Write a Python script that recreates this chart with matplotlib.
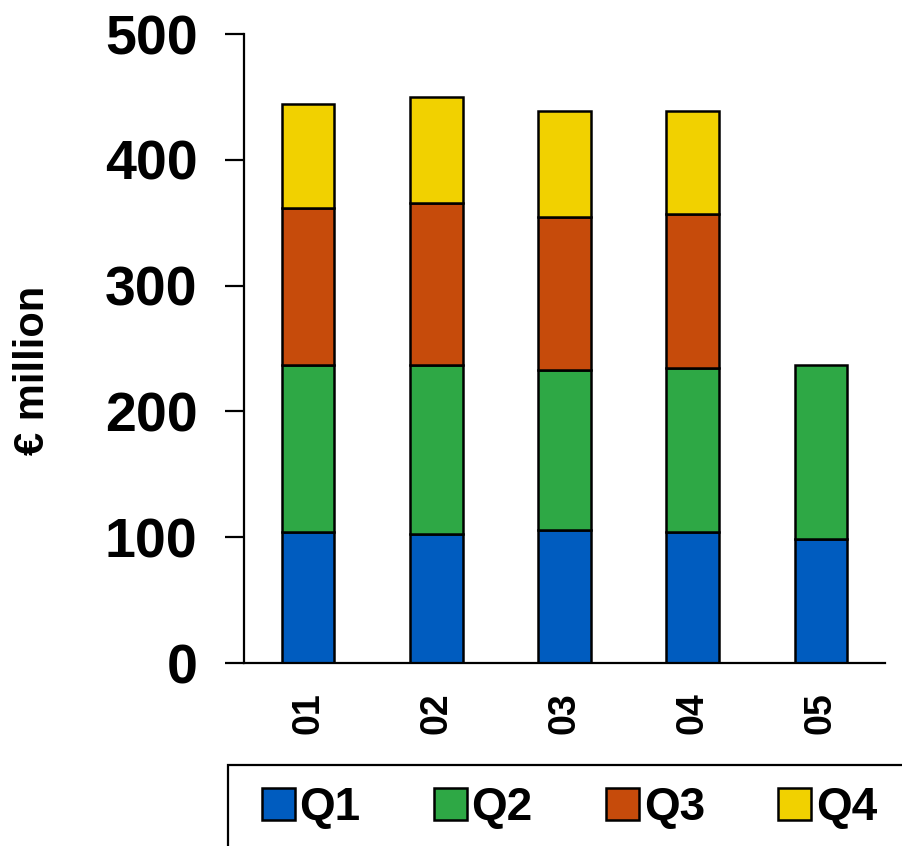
import numpy as np
import matplotlib.pyplot as plt
from matplotlib.patches import Rectangle

# values (€ million per quarter)
years = ["01", "02", "03", "04", "05"]
q1 = [104.0, 102.6, 105.8, 104.2, 98.6]
q2 = [133.0, 134.3, 127.1, 130.5, 138.3]
q3 = [124.9, 128.6, 122.0, 122.1, 0.0]
q4 = [82.4, 84.2, 84.2, 82.3, 0.0]
quarters = ["Q1", "Q2", "Q3", "Q4"]
colors = ["#005cbf", "#2ea845", "#c64b0b", "#f1d100"]

plt.rcParams['font.family'] = ['Liberation Sans', 'DejaVu Sans']
plt.rcParams['font.weight'] = 'bold'

fig = plt.figure(figsize=(9.03, 8.46), dpi=100)
ax = fig.add_axes([0.2702, 0.2163, 0.7098, 0.7435])

x = np.arange(len(years))
bottom = np.zeros(len(years))
for name, vals, col in zip(quarters, [q1, q2, q3, q4], colors):
    vals = np.array(vals)
    mask = vals > 0
    ax.bar(x[mask], vals[mask], width=0.41, bottom=bottom[mask], color=col,
           edgecolor='black', linewidth=1.8, label=name)
    bottom += vals

ax.set_xlim(-0.5, 4.5)
ax.set_ylim(0, 500)
ax.set_yticks([0, 100, 200, 300, 400, 500])
ax.set_xticks(x)
ax.set_xticklabels(years, rotation=90, fontsize=27, fontweight='bold')
ax.tick_params(axis='y', labelsize=40, length=13.5, width=1.6, pad=20)
ax.tick_params(axis='x', length=0, pad=21)
for lab in ax.get_yticklabels():
    lab.set_fontweight('bold')

ax.spines['top'].set_visible(False)
ax.spines['right'].set_visible(False)
ax.spines['left'].set_linewidth(1.6)
ax.spines['bottom'].set_linewidth(1.6)

fig.text(33 / 903, 1 - 370 / 846, "€ million", rotation=90, fontsize=30,
         fontweight='bold', ha='center', va='center')

# legend box that runs off the lower right edge
fig.patches.append(Rectangle((228 / 903, -0.05), 0.8, 1 - 765 / 846 + 0.05,
                             transform=fig.transFigure, fill=False,
                             edgecolor='black', linewidth=1.6))
handles, labels = ax.get_legend_handles_labels()
fig.legend(handles, labels, loc='center left', ncol=4, frameon=False,
           bbox_to_anchor=(262 / 903, 1 - 808 / 846), borderpad=0,
           borderaxespad=0, prop={'weight': 'bold', 'size': 33},
           handlelength=0.72, handleheight=0.7, handletextpad=0.1,
           columnspacing=1.6)

fig.savefig("out.png", dpi=100)
